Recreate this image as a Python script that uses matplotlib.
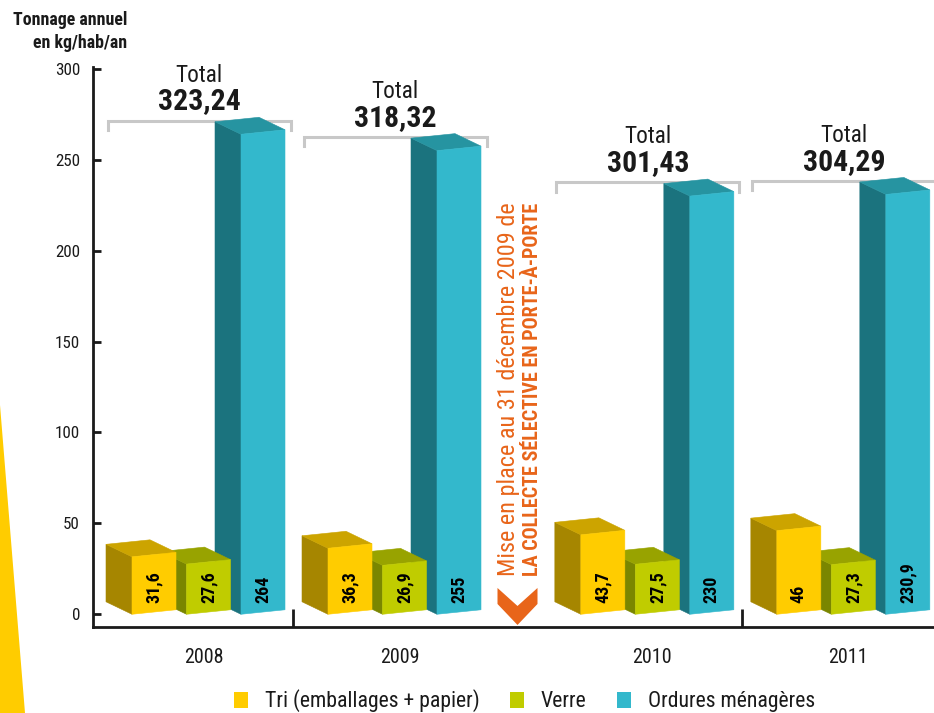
import os
import numpy as np
import matplotlib
matplotlib.use("Agg")
import matplotlib.pyplot as plt
from matplotlib.patches import Polygon, Patch
from matplotlib import font_manager as fm

# ---------------- data ----------------
years = ["2008", "2009", "2010", "2011"]
tri = [31.6, 36.3, 43.7, 46.0]
verre = [27.6, 26.9, 27.5, 27.3]
ordures = [264.0, 255.0, 230.0, 230.9]
totals = [323.24, 318.32, 301.43, 304.29]
series_names = ["Tri (emballages + papier)", "Verre", "Ordures ménagères"]
yticks = [0, 50, 100, 150, 200, 250, 300]
ylabel_lines = ["Tonnage annuel", "en kg/hab/an"]
total_word = "Total"
note_line1 = "Mise en place au 31 décembre 2009 de"
note_line2 = "LA COLLECTE SÉLECTIVE EN PORTE-À-PORTE"

# ---------------- styles ----------------
front_cols = ["#FFCC00", "#C0CC00", "#33B8CC"]
side_cols = ["#A68600", "#7A8600", "#1B737E"]
top_cols = ["#CCA400", "#98A300", "#2694A1"]
TXT = "#1a1a1a"
ORANGE = "#E8651A"
GREY = "#C8C8C8"

# ---------------- fonts ----------------
files = fm.findSystemFonts()
def find_font(prefixes, want_bold):
    bad = ["italic", "oblique", "light", "thin", "medium", "black", "semi", "extra", "heavy"]
    for p in prefixes:
        for f in sorted(files):
            b = os.path.basename(f).lower()
            if not b.startswith(p) or not b.endswith((".ttf", ".otf")):
                continue
            if any(k in b for k in bad):
                continue
            if want_bold and "bold" in b:
                return f
            if not want_bold and "bold" not in b:
                return f
    return None

prefs = ["robotocondensed", "dejavusanscondensed", "liberationsansnarrow"]
REG = find_font(prefs, False)
BLD = find_font(prefs, True)

def FP(bold=False, size=10):
    path = BLD if bold else REG
    if path:
        return fm.FontProperties(fname=path, size=size)
    return fm.FontProperties(family="DejaVu Sans", weight="bold" if bold else "normal", size=size)

# ---------------- figure ----------------
W, H = 934, 713
fig = plt.figure(figsize=(W / 100, H / 100), dpi=100)
renderer = fig.canvas.get_renderer()

def size_for(s, bold, target_px, base=10.0):
    t = fig.text(0, 0, s, fontproperties=FP(bold, base))
    w = t.get_window_extent(renderer).width
    t.remove()
    return base * target_px / w

AX_L, AX_R, AX_T, AX_B = 93, 934, 67, 627
ax = fig.add_axes([AX_L / W, 1 - AX_B / H, (AX_R - AX_L) / W, (AX_B - AX_T) / H])
GROUP_PX = 196.0
XL0 = -115.5 / GROUP_PX
XL1 = XL0 + (AX_R - AX_L) / GROUP_PX
YL0, YL1 = -7, 301
ax.set_xlim(XL0, XL1)
ax.set_ylim(YL0, YL1)
ux = (XL1 - XL0) / (AX_R - AX_L)   # data units per pixel (x)
uy = (YL1 - YL0) / (AX_B - AX_T)   # data units per pixel (y)

# decorative yellow wedge at the left edge
fig.patches.append(Polygon([[0, 1 - 405 / H], [25 / W, 0], [0, 0]], closed=True,
                           transform=fig.transFigure, facecolor="#FFCC00",
                           edgecolor="none", zorder=0))

# ---------------- bars ----------------
n = len(years)
idx = np.arange(n)
centers = idx + np.where(idx >= 2, 0.29, 0.0)
offs = np.array([-54.5, 0.0, 54.5]) * ux
bw = 44 * ux
d = np.array([-26 * ux, 12.5 * uy])
skew = 4.5 * uy
series = [tri, verre, ordures]

lab_size = size_for("31,6", True, 32)

def fmt(v):
    return f"{v:g}".replace(".", ",")

for g, xc in enumerate(centers):
    for k in [2, 1, 0]:
        v = series[k][g]
        z = 3 + (2 - k)
        x0 = xc + offs[k] - bw / 2
        x1 = x0 + bw
        BL = np.array([x0, 0.0]); BR = np.array([x1, skew])
        TR = np.array([x1, v + skew]); TL = np.array([x0, v])
        side = [BL, TL, TL + d, BL + d]
        top = [TL, TR, TR + d, TL + d]
        front = [BL, BR, TR, TL]
        for poly, col in [(side, side_cols[k]), (top, top_cols[k]), (front, front_cols[k])]:
            ax.add_patch(Polygon(poly, closed=True, facecolor=col, edgecolor=col,
                                 lw=0.4, zorder=z))
        ax.text(xc + offs[k], 5 + skew / 2, fmt(v), rotation=90, ha="center", va="bottom",
                color="black", fontproperties=FP(True, lab_size), zorder=10)

# ---------------- totals with brackets ----------------
tot_size = size_for(total_word, False, 47)
val_size = size_for("323,24", True, 83)
bl_off, br_off = -101 * ux, 82 * ux
for g, xc in enumerate(centers):
    yb = ordures[g] + 7.5
    xl, xr = xc + bl_off, xc + br_off
    ax.plot([xl, xl, xr, xr], [yb - 5, yb, yb, yb - 5], color=GREY, lw=2.2,
            solid_joinstyle="miter", clip_on=False, zorder=2)
    xm = (xl + xr) / 2
    ax.text(xm, yb + 25, total_word, ha="center", va="center", color=TXT,
            fontproperties=FP(False, tot_size))
    ax.text(xm, yb + 10.5, f"{totals[g]:.2f}".replace(".", ","), ha="center", va="center",
            color=TXT, fontproperties=FP(True, val_size))

# ---------------- note & chevron ----------------
xa = centers[1] + (517 - 404) / GROUP_PX
n1 = size_for(note_line1, False, 370)
n2 = size_for(note_line2, True, 375)
yn = (614.3 - 576) * uy
ax.text(xa - 9 * ux, yn, note_line1, rotation=90, ha="center", va="bottom", color=ORANGE,
        fontproperties=FP(False, n1))
ax.text(xa + 15 * ux, yn, note_line2, rotation=90, ha="center", va="bottom", color=ORANGE,
        fontproperties=FP(True, n2))

def py(ypx):
    return (614.3 - ypx) * uy
chev = [[xa - 20 * ux, py(588)], [xa, py(606)], [xa + 20 * ux, py(588)],
        [xa + 20 * ux, py(604)], [xa, py(625)], [xa - 20 * ux, py(604)]]
ax.add_patch(Polygon(chev, closed=True, facecolor=ORANGE, edgecolor="none", zorder=6,
                     clip_on=False))

# ---------------- axes styling ----------------
for s in ["top", "right"]:
    ax.spines[s].set_visible(False)
for s in ["left", "bottom"]:
    ax.spines[s].set_linewidth(2.0)
    ax.spines[s].set_color(TXT)

ax.set_yticks(yticks)
ax.set_yticklabels([str(t) for t in yticks])
ytick_size = size_for("300", False, 25)
ax.tick_params(axis="y", direction="in", length=6, width=2, color=TXT, pad=9.4,
               labelsize=ytick_size, labelcolor=TXT)
for lab in ax.get_yticklabels():
    lab.set_fontproperties(FP(False, ytick_size))

ax.set_xticks([centers[0] + 0.432, centers[2] + 0.432])
ax.tick_params(axis="x", which="major", direction="in", length=13, width=2, color=TXT,
               labelbottom=False)
ax.set_xticks(centers - 5 * ux, minor=True)
ax.set_xticklabels(years, minor=True)
year_size = size_for("2008", False, 39)
ax.tick_params(axis="x", which="minor", length=0, pad=15, labelcolor=TXT)
for lab in ax.get_xticklabels(minor=True):
    lab.set_fontproperties(FP(False, year_size))

# y-axis title (top-left)
yl_size = size_for(ylabel_lines[0], True, 114)
fig.text(127 / W, 1 - 20 / H, ylabel_lines[0], ha="right", va="center", color=TXT,
         fontproperties=FP(True, yl_size))
fig.text(127 / W, 1 - 43 / H, ylabel_lines[1], ha="right", va="center", color=TXT,
         fontproperties=FP(True, yl_size))

# ---------------- legend ----------------
leg_size = size_for(series_names[0], False, 214)
em = leg_size * 100 / 72
handles = [Patch(facecolor=c, edgecolor="none") for c in front_cols]
fig.legend(handles, series_names, loc="center", bbox_to_anchor=(524.5 / W, 1 - 701 / H),
           ncol=3, frameon=False, prop=FP(False, leg_size), handlelength=14 / em,
           handleheight=16 / em, handletextpad=17 / em, columnspacing=30 / em,
           borderaxespad=0, borderpad=0, labelcolor=TXT)

fig.savefig("out.png", dpi=100)
